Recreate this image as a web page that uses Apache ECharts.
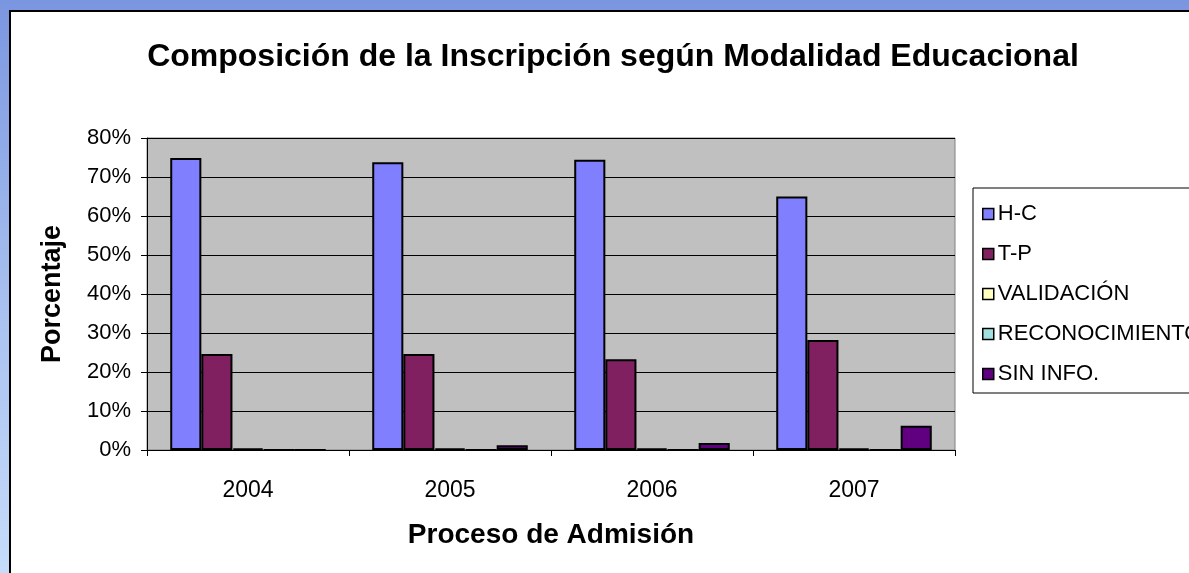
<!DOCTYPE html>
<html>
<head>
<meta charset="utf-8">
<script src="https://cdn.jsdelivr.net/npm/echarts@6/dist/echarts.min.js"></script>
<style>
  html, body { margin: 0; padding: 0; }
  body {
    width: 1189px; height: 573px; overflow: hidden; position: relative;
    background: linear-gradient(to bottom, #7b96e0 0%, #a9c2f0 55%, #c6dcfa 100%);
  }
  #frame {
    position: absolute; left: 9px; top: 10px; width: 1180px; height: 563px;
    background: #fff; border-left: 2px solid #000; border-top: 2px solid #000;
    box-sizing: border-box;
  }
  #main { position: absolute; left: 0; top: 0; width: 1189px; height: 573px; }
</style>
</head>
<body>
<div id="frame"></div>
<div id="main"></div>
<script>
// datos (porcentaje)
var years = ['2004', '2005', '2006', '2007'];
var hc = [74.9, 73.8, 74.4, 65.0];
var tp = [24.6, 24.6, 23.3, 28.2];
var validacion = [0.4, 0.4, 0.4, 0.4];
var reconocimiento = [0, 0, 0, 0];
var sinInfo = [0, 1.2, 1.8, 6.2];

var seriesNames = ['H-C', 'T-P', 'VALIDACIÓN', 'RECONOCIMIENTO', 'SIN INFO.'];
var seriesColors = ['#8080ff', '#802060', '#ffffc0', '#a0e0e0', '#600080'];
var seriesData = [hc, tp, validacion, reconocimiento, sinInfo];

var chart = echarts.init(document.getElementById('main'), null, { renderer: 'canvas' });

var font = 'Liberation Sans, Arial, sans-serif';

var series = seriesNames.map(function (name, i) {
  return {
    name: name,
    type: 'bar',
    data: seriesData[i],
    barGap: '0%',
    barCategoryGap: '23%',
    itemStyle: {
      color: seriesColors[i],
      borderColor: '#000',
      borderWidth: 2
    }
  };
});

var option = {
  animation: false,
  backgroundColor: 'transparent',
  textStyle: { fontFamily: font },
  title: {
    text: 'Composición de la Inscripción según Modalidad Educacional',
    left: 608,
    textAlign: 'center',
    top: 36,
    textStyle: { fontSize: 32, fontWeight: 'bold', color: '#000', fontFamily: font }
  },
  legend: {
    orient: 'vertical',
    left: 977,
    top: 198,
    itemWidth: 11,
    itemHeight: 11,
    itemGap: 18,
    icon: 'rect',
    itemStyle: { borderColor: '#000', borderWidth: 1.5 },
    textStyle: { fontSize: 22, color: '#000', fontFamily: font, padding: [0, 0, 0, -1] },
    data: seriesNames
  },
  graphic: [{
    type: 'rect',
    shape: { x: 973, y: 188, width: 240, height: 205 },
    style: { fill: '#fff', stroke: '#000', lineWidth: 1 },
    z: -1
  }],
  grid: {
    left: 147,
    top: 138,
    width: 808,
    height: 312,
    show: true,
    backgroundColor: '#c0c0c0',
    borderColor: '#808080',
    borderWidth: 1
  },
  xAxis: {
    type: 'category',
    data: years,
    name: 'Proceso de Admisión',
    nameLocation: 'middle',
    nameGap: 71,
    nameTextStyle: { fontSize: 28, fontWeight: 'bold', color: '#000', fontFamily: font },
    axisLine: { lineStyle: { color: '#000', width: 1 } },
    axisTick: { show: true, length: 6, lineStyle: { color: '#000' } },
    axisLabel: { fontSize: 23, color: '#000', margin: 29, fontFamily: font }
  },
  yAxis: {
    type: 'value',
    min: 0,
    max: 80,
    interval: 10,
    name: 'Porcentaje',
    nameLocation: 'middle',
    nameGap: 81,
    nameRotate: 90,
    nameTextStyle: { fontSize: 27, fontWeight: 'bold', color: '#000', fontFamily: font },
    axisLine: { show: true, lineStyle: { color: '#000', width: 1 } },
    axisTick: { show: true, length: 6, lineStyle: { color: '#000' } },
    axisLabel: { fontSize: 22, color: '#000', margin: 16, formatter: '{value}%', fontFamily: font },
    splitLine: { show: true, lineStyle: { color: '#000', width: 1 } }
  },
  series: series
};

chart.setOption(option);
</script>
</body>
</html>
